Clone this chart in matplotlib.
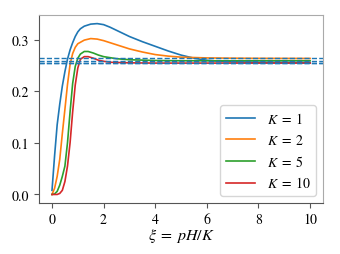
import matplotlib
matplotlib.use("Agg")
import matplotlib.pyplot as plt

plt.rcParams['font.family'] = ['STIXGeneral', 'DejaVu Serif']
plt.rcParams['mathtext.fontset'] = 'stix'
plt.rcParams['font.size'] = 10

# Data
xi_k1 = [0, 0.1, 0.2, 0.3, 0.4, 0.5, 0.6, 0.7, 0.8, 0.9, 1.0, 1.1, 1.25, 1.5, 1.75,
         2.0, 2.25, 2.5, 3.0, 3.5, 4.0, 4.5, 5.0, 5.5, 6.0, 6.5, 7.0, 8.0, 9.0, 10.0]
v_k1 = [0.008, 0.075, 0.135, 0.175, 0.21, 0.238, 0.262, 0.280, 0.294, 0.306, 0.315,
        0.321, 0.326, 0.330, 0.331, 0.329, 0.324, 0.318, 0.306, 0.296, 0.287, 0.278,
        0.270, 0.264, 0.260, 0.258, 0.257, 0.256, 0.2557, 0.2555]

xi_k2 = [0, 0.1, 0.2, 0.3, 0.4, 0.5, 0.6, 0.7, 0.8, 0.9, 1.0, 1.25, 1.5, 1.75, 2.0,
         2.5, 3.0, 3.5, 4.0, 4.5, 5.0, 6.0, 7.0, 8.0, 9.0, 10.0]
v_k2 = [0.0, 0.012, 0.035, 0.068, 0.118, 0.165, 0.213, 0.252, 0.273, 0.285, 0.292,
        0.299, 0.302, 0.301, 0.298, 0.290, 0.282, 0.276, 0.271, 0.268, 0.266, 0.2645,
        0.264, 0.2637, 0.2636, 0.2635]

xi_k5 = [0, 0.1, 0.2, 0.3, 0.4, 0.5, 0.6, 0.7, 0.8, 0.9, 1.0, 1.1, 1.25, 1.4, 1.6,
         1.8, 2.0, 2.5, 3.0, 4.0, 5.0, 6.0, 8.0, 10.0]
v_k5 = [0.0, 0.001, 0.006, 0.018, 0.035, 0.055, 0.10, 0.16, 0.215, 0.248, 0.264,
        0.272, 0.277, 0.277, 0.274, 0.270, 0.267, 0.263, 0.261, 0.2595, 0.259, 0.259,
        0.259, 0.259]

xi_k10 = [0, 0.1, 0.2, 0.3, 0.4, 0.5, 0.6, 0.7, 0.8, 0.9, 1.0, 1.1, 1.25, 1.4, 1.6,
          1.8, 2.0, 2.3, 3.0, 4.0, 6.0, 8.0, 10.0]
v_k10 = [0.0, 0.0, 0.0, 0.002, 0.008, 0.025, 0.055, 0.10, 0.16, 0.212, 0.245, 0.262,
         0.267, 0.267, 0.264, 0.260, 0.258, 0.256, 0.255, 0.2545, 0.2545, 0.2545, 0.2545]

labels = [r'$K\;=\;1$', r'$K\;=\;2$', r'$K\;=\;5$', r'$K\;=\;10$']
asymptotes = [0.2555, 0.2635, 0.259, 0.2545]

fig = plt.figure(figsize=(3.4, 2.55), dpi=100)
ax = fig.add_axes([0.115, 0.2, 0.835, 0.737])

series = [(xi_k1, v_k1), (xi_k2, v_k2), (xi_k5, v_k5), (xi_k10, v_k10)]
colors = ['C0', 'C1', 'C2', 'C3']
for (x, y), lab, c in zip(series, labels, colors):
    ax.plot(x, y, color=c, lw=1.2, label=lab)
for a in asymptotes:
    ax.axhline(a, color='C0', lw=1.0, ls='--')

ax.set_xticks([0, 2, 4, 6, 8, 10])
ax.set_yticks([0.0, 0.1, 0.2, 0.3])
ax.set_xlabel(r'$\xi\;=\;pH/K$', labelpad=0, fontsize=11.5)
for s in ['left', 'bottom']:
    ax.spines[s].set_color('#555555')
for s in ['top', 'right']:
    ax.spines[s].set_color('#aaaaaa')
ax.tick_params(colors='#555555', labelcolor='black', length=3.5, width=0.8)
ax.legend(loc='lower right', handlelength=2.15)

fig.savefig('out.png', dpi=100)
